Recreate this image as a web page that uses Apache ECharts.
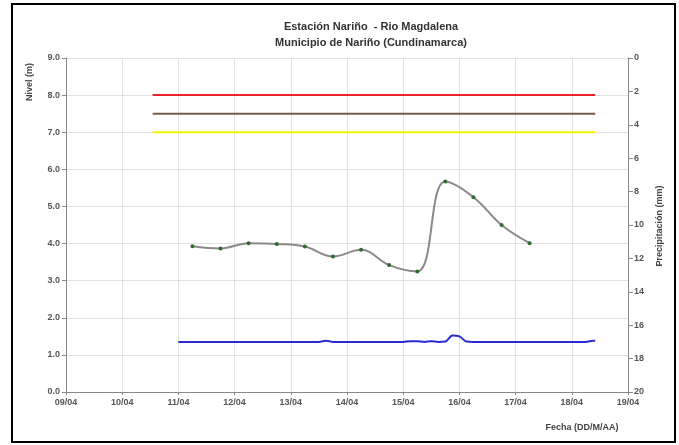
<!DOCTYPE html>
<html>
<head>
<meta charset="utf-8">
<script src="https://cdn.jsdelivr.net/npm/echarts@6/dist/echarts.min.js"></script>
<style>
  html, body { margin: 0; padding: 0; background: #fff; }
  #chart { width: 679px; height: 445px; }
</style>
</head>
<body>
<div id="chart"></div>
<script>
// Nivel del rio (cada 12 horas)
const nivelTimes = [
  '2011-04-11 06:00', '2011-04-11 18:00', '2011-04-12 06:00', '2011-04-12 18:00',
  '2011-04-13 06:00', '2011-04-13 18:00', '2011-04-14 06:00', '2011-04-14 18:00',
  '2011-04-15 06:00', '2011-04-15 18:00', '2011-04-16 06:00', '2011-04-16 18:00',
  '2011-04-17 06:00'
];
const nivelValues = [3.93, 3.87, 4.01, 3.99, 3.92, 3.65, 3.83, 3.42, 3.25, 5.67, 5.25, 4.50, 4.01];

// linea azul
const azulTimes = [
  '2011-04-11 00:00', '2011-04-12 00:00', '2011-04-13 00:00', '2011-04-13 12:00',
  '2011-04-13 15:00', '2011-04-13 18:00', '2011-04-14 12:00', '2011-04-15 00:00',
  '2011-04-15 03:00', '2011-04-15 06:00', '2011-04-15 09:00', '2011-04-15 12:00',
  '2011-04-15 15:00', '2011-04-15 18:00', '2011-04-15 21:00', '2011-04-16 00:00',
  '2011-04-16 03:00', '2011-04-16 06:00', '2011-04-17 00:00', '2011-04-18 00:00',
  '2011-04-18 06:00', '2011-04-18 09:00', '2011-04-18 10:00'
];
const azulValues = [
  1.35, 1.35, 1.35, 1.35,
  1.38, 1.35, 1.35, 1.35,
  1.37, 1.37, 1.35, 1.37,
  1.35, 1.36, 1.52, 1.50,
  1.36, 1.35, 1.35, 1.35,
  1.35, 1.38, 1.38
];

// umbrales
const umbralTimes = ['2011-04-10 13:00', '2011-04-18 10:00'];
const umbralRojo = [8.0, 8.0];
const umbralCafe = [7.5, 7.5];
const umbralAmarillo = [7.0, 7.0];

const xMin = '2011-04-09 00:00';
const xMax = '2011-04-19 00:00';

function pairs(times, values) {
  return times.map((t, i) => [t, values[i]]);
}

const chart = echarts.init(document.getElementById('chart'));
const day = 24 * 3600 * 1000;
const labelStyle = { fontSize: 9, fontWeight: 'bold', color: '#555', fontFamily: 'Liberation Sans, Arial' };

const option = {
  animation: false,
  title: {
    text: 'Estación Nariño  - Rio Magdalena\nMunicipio de Nariño (Cundinamarca)',
    left: 366,
    top: 14,
    textAlign: 'center',
    textStyle: { fontSize: 11, fontWeight: 'bold', color: '#333', lineHeight: 16, fontFamily: 'Liberation Sans, Arial' }
  },
  grid: { left: 66, right: 51, top: 58, bottom: 53 },
  xAxis: {
    type: 'time',
    min: xMin,
    max: xMax,
    interval: day,
    minInterval: day,
    maxInterval: day,
    axisLine: { lineStyle: { color: '#888' } },
    axisTick: { show: true, length: 3, lineStyle: { color: '#888' } },
    axisLabel: Object.assign({}, labelStyle, {
      margin: 6,
      interval: 0,
      hideOverlap: false,
      showMinLabel: true,
      showMaxLabel: true,
      formatter: v => echarts.time.format(v, '{dd}/{MM}', false)
    }),
    splitLine: { show: true, lineStyle: { color: '#e2e2e2' } }
  },
  yAxis: [
    {
      type: 'value',
      min: 0,
      max: 9,
      interval: 1,
      axisLine: { show: true, lineStyle: { color: '#888' } },
      axisTick: { show: true, length: 4, lineStyle: { color: '#888' } },
      axisLabel: Object.assign({}, labelStyle, { formatter: v => v.toFixed(1), margin: 6 }),
      splitLine: { show: true, lineStyle: { color: '#e2e2e2' } }
    },
    {
      type: 'value',
      min: 0,
      max: 20,
      interval: 2,
      inverse: true,
      position: 'right',
      axisLine: { show: true, lineStyle: { color: '#888' } },
      axisTick: { show: true, length: 5, lineStyle: { color: '#888' } },
      axisLabel: Object.assign({}, labelStyle, { margin: 6 }),
      splitLine: { show: false }
    }
  ],
  graphic: [
    {
      type: 'rect',
      shape: { x: 12, y: 4, width: 663, height: 438 },
      style: { fill: 'none', stroke: '#000', lineWidth: 2 }
    },
    {
      type: 'text',
      x: 30, y: 82, rotation: Math.PI / 2,
      style: { text: 'Nivel (m)', fontSize: 9, fontWeight: 'bold', fill: '#444', align: 'center', verticalAlign: 'middle', fontFamily: 'Liberation Sans, Arial' }
    },
    {
      type: 'text',
      x: 660, y: 226, rotation: Math.PI / 2,
      style: { text: 'Precipitación (mm)', fontSize: 9, fontWeight: 'bold', fill: '#444', align: 'center', verticalAlign: 'middle', fontFamily: 'Liberation Sans, Arial' }
    },
    {
      type: 'text',
      x: 582, y: 428,
      style: { text: 'Fecha (DD/M/AA)', fontSize: 9, fontWeight: 'bold', fill: '#444', align: 'center', verticalAlign: 'middle', fontFamily: 'Liberation Sans, Arial' }
    }
  ],
  series: [
    {
      type: 'line',
      data: pairs(umbralTimes, umbralRojo),
      symbol: 'none',
      lineStyle: { color: '#e8242a', width: 2 }
    },
    {
      type: 'line',
      data: pairs(umbralTimes, umbralCafe),
      symbol: 'none',
      lineStyle: { color: '#7a5a4a', width: 2 }
    },
    {
      type: 'line',
      data: pairs(umbralTimes, umbralAmarillo),
      symbol: 'none',
      lineStyle: { color: '#f5f500', width: 2 }
    },
    {
      type: 'line',
      data: pairs(azulTimes, azulValues),
      symbol: 'none',
      smooth: 0.3,
      lineStyle: { color: '#2a2ad0', width: 2 }
    },
    {
      type: 'line',
      data: pairs(nivelTimes, nivelValues),
      smooth: 0.4,
      symbol: 'circle',
      symbolSize: 4,
      itemStyle: { color: '#2f6a2f' },
      lineStyle: { color: '#8a8a8a', width: 2 }
    }
  ]
};

chart.setOption(option);
</script>
</body>
</html>
